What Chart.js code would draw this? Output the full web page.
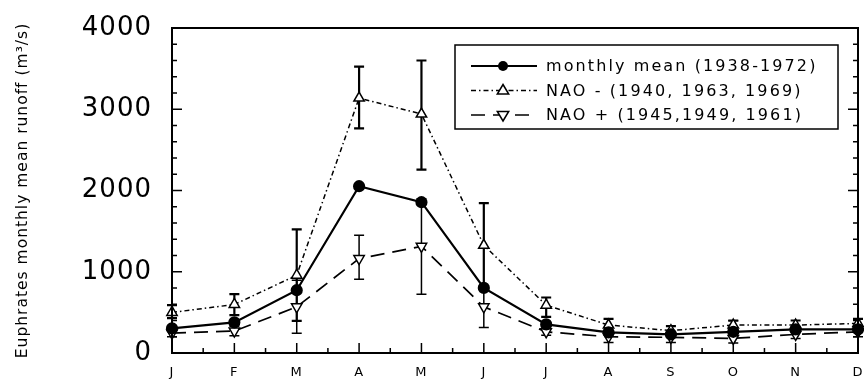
<!DOCTYPE html>
<html>
<head>
<meta charset="utf-8">
<script src="https://cdn.jsdelivr.net/npm/chart.js"></script>
<style>
  html, body { margin: 0; padding: 0; background: #fff; }
  #wrap { width: 864px; height: 384px; }
</style>
</head>
<body>
<div id="wrap"><canvas id="runoff-chart" width="864" height="384"></canvas></div>
<script>
// values (m3/s)
const months = ['J', 'F', 'M', 'A', 'M', 'J', 'J', 'A', 'S', 'O', 'N', 'D'];
const meanRunoff = [303, 377, 773, 2053, 1856, 801, 352, 254, 229, 261, 291, 291];
const naoMinus = [499, 597, 957, 3137, 2941, 1325, 589, 344, 275, 344, 344, 364];
const naoMinusLow = [430, 466, 395, 2765, 2258, 800, 445, 260, 220, 290, 290, 300];
const naoMinusHigh = [590, 724, 1521, 3525, 3600, 1845, 683, 420, 330, 400, 400, 420];
const naoPlus = [245, 270, 568, 1162, 1313, 568, 261, 200, 193, 180, 229, 261];
const naoPlusLow = [200, 212, 242, 908, 724, 315, 220, 130, 130, 123, 180, 200];
const naoPlusHigh = [320, 330, 894, 1448, 1900, 820, 300, 270, 260, 396, 280, 320];
const yTicks = [0, 1000, 2000, 3000, 4000];

const legendLabels = ['monthly mean (1938-1972)', 'NAO - (1940, 1963, 1969)', 'NAO + (1945,1949, 1961)'];
const FONT = '"DejaVu Sans", "Liberation Sans", sans-serif';

const errorBars = {
  1: { lo: naoMinusLow, hi: naoMinusHigh, width: 2.2 },
  2: { lo: naoPlusLow, hi: naoPlusHigh, width: 1.5 }
};

const drawMarker = (ctx, style, x, y, r) => {
  ctx.save();
  ctx.beginPath();
  if (style === 'circle') {
    ctx.arc(x, y, r, 0, Math.PI * 2);
    ctx.fillStyle = '#000';
    ctx.fill();
  } else {
    const dir = style === 'down' ? -1 : 1;
    ctx.moveTo(x, y - dir * r);
    ctx.lineTo(x + r * 0.95, y + dir * r * 0.6);
    ctx.lineTo(x - r * 0.95, y + dir * r * 0.6);
    ctx.closePath();
    ctx.fillStyle = '#fff';
    ctx.fill();
    ctx.lineWidth = 1.5;
    ctx.strokeStyle = '#000';
    ctx.stroke();
  }
  ctx.restore();
};

const framePlugin = {
  id: 'frame',
  beforeDraw(chart) {
    chart.ctx.letterSpacing = '1px';
  },
  beforeDatasetsDraw(chart) {
    const ctx = chart.ctx;
    const x = chart.scales.x, y = chart.scales.y;
    ctx.save();
    ctx.strokeStyle = '#000';
    Object.keys(errorBars).forEach(k => {
      const eb = errorBars[k];
      ctx.lineWidth = eb.width;
      eb.lo.forEach((lo, i) => {
        const px = x.getPixelForValue(i);
        const top = y.getPixelForValue(eb.hi[i]);
        const bot = y.getPixelForValue(lo);
        ctx.beginPath();
        ctx.moveTo(px, top); ctx.lineTo(px, bot);
        ctx.moveTo(px - 5, top); ctx.lineTo(px + 5, top);
        ctx.moveTo(px - 5, bot); ctx.lineTo(px + 5, bot);
        ctx.stroke();
      });
    });
    ctx.restore();
  },
  afterDraw(chart) {
    const ctx = chart.ctx;
    const a = chart.chartArea;
    const x = chart.scales.x, y = chart.scales.y;
    ctx.save();
    ctx.strokeStyle = '#000';
    ctx.lineWidth = 2;
    ctx.strokeRect(a.left, a.top, a.right - a.left, a.bottom - a.top);

    // inward ticks
    ctx.lineWidth = 1.5;
    ctx.beginPath();
    for (let v = 0; v <= 4000; v += 200) {
      const py = y.getPixelForValue(v);
      const len = v % 1000 === 0 ? 10 : 5;
      ctx.moveTo(a.left, py); ctx.lineTo(a.left + len, py);
      ctx.moveTo(a.right, py); ctx.lineTo(a.right - len, py);
    }
    for (let i = 0; i < months.length; i++) {
      const px = x.getPixelForValue(i);
      ctx.moveTo(px, a.bottom); ctx.lineTo(px, a.bottom - 10);
      if (i < months.length - 1) {
        const mid = (px + x.getPixelForValue(i + 1)) / 2;
        ctx.moveTo(mid, a.bottom); ctx.lineTo(mid, a.bottom - 5);
      }
    }
    ctx.stroke();

    // legend box
    const lx = a.right - 403, ly = a.top + 17, lw = 383, lh = 84;
    ctx.fillStyle = '#fff';
    ctx.fillRect(lx, ly, lw, lh);
    ctx.lineWidth = 1.5;
    ctx.strokeRect(lx, ly, lw, lh);
    const styles = ['circle', 'up', 'down'];
    chart.data.datasets.forEach((ds, i) => {
      const ry = ly + 21 + i * 24.5;
      ctx.save();
      ctx.lineWidth = ds.borderWidth;
      ctx.setLineDash(ds.borderDash || []);
      ctx.beginPath();
      ctx.moveTo(lx + 16, ry); ctx.lineTo(lx + 82, ry);
      ctx.stroke();
      ctx.restore();
      drawMarker(ctx, styles[i], lx + 48, ry, i === 0 ? 5 : 6);
      ctx.fillStyle = '#000';
      ctx.font = '16px ' + FONT;
      ctx.letterSpacing = '2.1px';
      ctx.textBaseline = 'middle';
      ctx.fillText(legendLabels[i], lx + 91, ry + 1);
    });
    ctx.restore();
  }
};

new Chart(document.getElementById('runoff-chart'), {
  type: 'line',
  data: {
    labels: months,
    datasets: [
      {
        label: legendLabels[0], data: meanRunoff,
        borderColor: '#000', borderWidth: 2.2,
        pointStyle: 'circle', pointRadius: 5,
        pointBackgroundColor: '#000', pointBorderColor: '#000', tension: 0
      },
      {
        label: legendLabels[1], data: naoMinus,
        borderColor: '#000', borderWidth: 1.5, borderDash: [5, 3, 1.5, 3],
        pointStyle: 'triangle', pointRadius: 6, pointBorderWidth: 1.5,
        pointBackgroundColor: '#fff', pointBorderColor: '#000', tension: 0
      },
      {
        label: legendLabels[2], data: naoPlus,
        borderColor: '#000', borderWidth: 1.7, borderDash: [14, 8],
        pointStyle: 'triangle', pointRotation: 180, pointRadius: 6, pointBorderWidth: 1.5,
        pointBackgroundColor: '#fff', pointBorderColor: '#000', tension: 0
      }
    ]
  },
  options: {
    responsive: false,
    animation: false,
    devicePixelRatio: 1,
    layout: { autoPadding: false, padding: { top: 28, right: 6, left: 0, bottom: 0 } },
    plugins: { legend: { display: false }, tooltip: { enabled: false } },
    scales: {
      x: {
        type: 'category',
        offset: false,
        grid: { display: false, drawTicks: false },
        border: { display: false },
        ticks: { color: '#000', font: { family: FONT, size: 13 }, padding: 12, autoSkip: false, maxRotation: 0 },
        afterFit(scale) {
          scale.height = 31;
          scale.paddingLeft = 0;
          scale.paddingRight = 0;
        }
      },
      y: {
        min: 0, max: 4000,
        afterBuildTicks(scale) { scale.ticks = yTicks.map(v => ({ value: v })); },
        grid: { display: false, drawTicks: false },
        border: { display: false },
        ticks: { color: '#000', font: { family: FONT, size: 26 }, padding: 20, callback: v => String(v) },
        title: {
          display: true,
          text: 'Euphrates monthly mean runoff (m³/s)',
          color: '#000',
          font: { family: FONT, size: 15.5 },
          padding: { top: 14, bottom: 0 }
        },
        afterFit(scale) {
          scale.width = 172;
          scale.paddingTop = 0;
          scale.paddingBottom = 0;
        }
      }
    }
  },
  plugins: [framePlugin]
});
</script>
</body>
</html>
